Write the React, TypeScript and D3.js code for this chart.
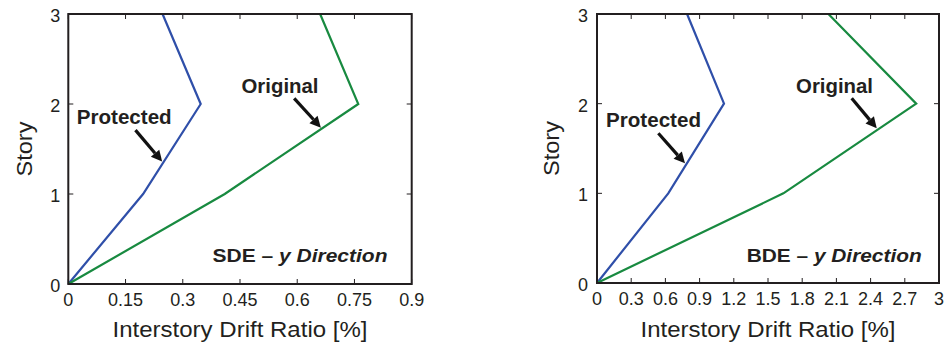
import React from 'react';
import * as d3 from 'd3';

// story levels (y) and drift ratios in % (x)
const stories = [0, 1, 2, 3];
const sdeProtected = [0, 0.196, 0.347, 0.247];
const sdeOriginal = [0, 0.41, 0.76, 0.66];
const bdeProtected = [0, 0.625, 1.114, 0.79];
const bdeOriginal = [0, 1.635, 2.8, 2.03];

const sdeTicks = [0, 0.15, 0.3, 0.45, 0.6, 0.75, 0.9];
const bdeTicks = [0, 0.3, 0.6, 0.9, 1.2, 1.5, 1.8, 2.1, 2.4, 2.7, 3];
const storyTicks = [0, 1, 2, 3];

const BLUE = '#2f4fa9';
const GREEN = '#188a40';
const INK = '#231f20';
const FONT = 'Liberation Sans, Arial, sans-serif';

type Note = { x: number; y: number };
type PanelProps = {
  left: number; right: number; top: number; bottom: number;
  xMax: number; xTicks: number[];
  protectedX: number[]; originalX: number[];
  title: string;
  protLabel: Note; protTail: Note; protTip: Note;
  origLabel: Note; origTail: Note; origTip: Note;
  titlePos: Note;
  yLabelX: number; tickGap: number;
};

function Arrow({ x1, y1, x2, y2 }: { x1: number; y1: number; x2: number; y2: number }) {
  const a = Math.atan2(y2 - y1, x2 - x1);
  const len = 11, half = 5.5;
  const bx = x2 - len * Math.cos(a), by = y2 - len * Math.sin(a);
  const p1 = [bx + half * Math.sin(a), by - half * Math.cos(a)];
  const p2 = [bx - half * Math.sin(a), by + half * Math.cos(a)];
  return (
    <g>
      <line x1={x1} y1={y1} x2={bx} y2={by} stroke="#111" strokeWidth={3.2} />
      <path d={`M${x2},${y2}L${p1[0]},${p1[1]}L${p2[0]},${p2[1]}Z`} fill="#111" />
    </g>
  );
}

function Panel(p: PanelProps) {
  const x = d3.scaleLinear().domain([0, p.xMax]).range([p.left, p.right]);
  const y = d3.scaleLinear().domain([0, 3]).range([p.bottom, p.top]);
  const line = d3.line<number>().x(d => x(d)).y((_, i) => y(stories[i]));
  const fmt = (v: number) => d3.format('~g')(+v.toFixed(2));
  const tl = 5;
  return (
    <g fontFamily={FONT}>
      <path d={line(p.protectedX) || ''} fill="none" stroke={BLUE} strokeWidth={2.2} />
      <path d={line(p.originalX) || ''} fill="none" stroke={GREEN} strokeWidth={2.2} />
      {p.xTicks.map(t => (
        <g key={'x' + t}>
          <line x1={x(t)} x2={x(t)} y1={p.bottom} y2={p.bottom - tl} stroke={INK} />
          <line x1={x(t)} x2={x(t)} y1={p.top} y2={p.top + tl} stroke={INK} />
          <text x={x(t)} y={p.bottom + 22} textAnchor="middle" fontSize={18} fill={INK}>{fmt(t)}</text>
        </g>
      ))}
      {storyTicks.map(t => (
        <g key={'y' + t}>
          <line x1={p.left} x2={p.left + tl} y1={y(t)} y2={y(t)} stroke={INK} />
          <line x1={p.right} x2={p.right - tl} y1={y(t)} y2={y(t)} stroke={INK} />
          <text x={p.left - p.tickGap} y={y(t) + 8} textAnchor="end" fontSize={18} fill={INK}>{t}</text>
        </g>
      ))}
      <rect x={p.left} y={p.top} width={p.right - p.left} height={p.bottom - p.top}
        fill="none" stroke={INK} strokeWidth={2} />
      <text x={(p.left + p.right) / 2} y={337} textAnchor="middle" fontSize={22.5} fill={INK}
        textLength={255} lengthAdjust="spacingAndGlyphs">
        Interstory Drift Ratio [%]
      </text>
      <text transform={`translate(${p.yLabelX},${(p.top + p.bottom) / 2}) rotate(-90)`}
        textAnchor="middle" fontSize={22.5} fill={INK} textLength={55} lengthAdjust="spacingAndGlyphs">Story</text>

      <text x={x(p.protLabel.x)} y={y(p.protLabel.y)} fontSize={19.5} fontWeight="bold" fill={INK}
        textLength={95} lengthAdjust="spacingAndGlyphs">Protected</text>
      <Arrow x1={x(p.protTail.x)} y1={y(p.protTail.y)} x2={x(p.protTip.x)} y2={y(p.protTip.y)} />
      <text x={x(p.origLabel.x)} y={y(p.origLabel.y)} fontSize={19.5} fontWeight="bold" fill={INK}
        textLength={77} lengthAdjust="spacingAndGlyphs">Original</text>
      <Arrow x1={x(p.origTail.x)} y1={y(p.origTail.y)} x2={x(p.origTip.x)} y2={y(p.origTip.y)} />
      <text x={x(p.titlePos.x)} y={y(p.titlePos.y)} fontSize={19} fontWeight="bold" fill={INK}
        textLength={175} lengthAdjust="spacingAndGlyphs">
        {p.title} – <tspan fontStyle="italic">y Direction</tspan>
      </text>
    </g>
  );
}

export default function App() {
  return (
    <svg width={944} height={346} style={{ position: 'absolute', left: 0, top: 0, background: '#fff' }}>
      <Panel left={68.3} right={411.7} top={14} bottom={284} xMax={0.9} xTicks={sdeTicks}
        protectedX={sdeProtected} originalX={sdeOriginal} title="SDE"
        protLabel={{ x: 0.022, y: 1.78 }} protTail={{ x: 0.176, y: 1.71 }} protTip={{ x: 0.246, y: 1.36 }}
        origLabel={{ x: 0.454, y: 2.126 }} origTail={{ x: 0.592, y: 2.063 }} origTip={{ x: 0.662, y: 1.737 }}
        titlePos={{ x: 0.378, y: 0.24 }} yLabelX={32} tickGap={8} />
      <Panel left={597} right={939} top={14} bottom={283} xMax={3} xTicks={bdeTicks}
        protectedX={bdeProtected} originalX={bdeOriginal} title="BDE"
        protLabel={{ x: 0.079, y: 1.736 }} protTail={{ x: 0.538, y: 1.67 }} protTip={{ x: 0.772, y: 1.335 }}
        origLabel={{ x: 1.746, y: 2.122 }} origTail={{ x: 2.234, y: 2.06 }} origTip={{ x: 2.454, y: 1.725 }}
        titlePos={{ x: 1.313, y: 0.231 }} yLabelX={559} tickGap={9} />
    </svg>
  );
}
